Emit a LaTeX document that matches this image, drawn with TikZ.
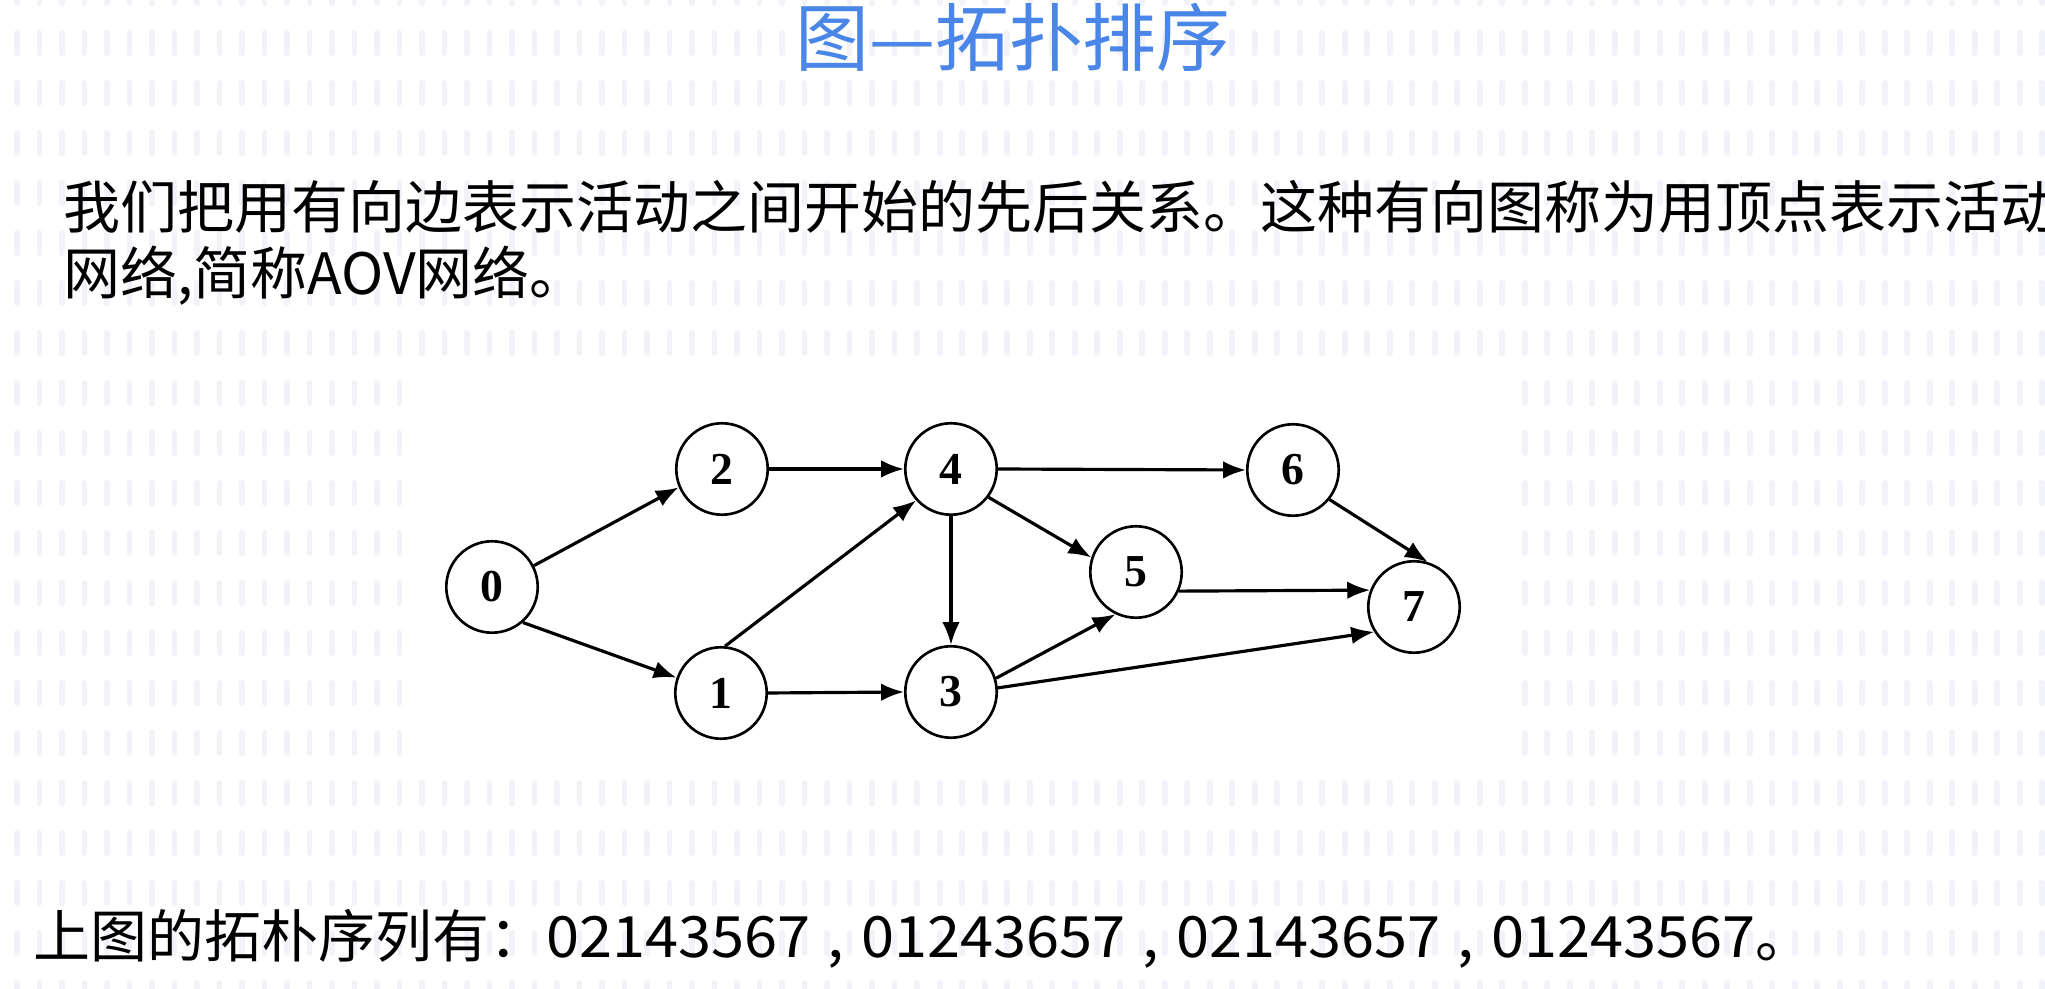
\documentclass[tikz,border=0pt]{standalone}
\usepackage{fontspec}
\setmainfont{Liberation Serif}
\newfontfamily\cjkfont{Noto Sans CJK SC}
\newfontfamily\digitfont[FakeStretch=1.045]{Noto Sans CJK SC}
\usetikzlibrary{arrows.meta}
\definecolor{titleblue}{RGB}{74,134,232}
\definecolor{tickgray}{RGB}{241,243,249}

\begin{document}
\begin{tikzpicture}[x=0.01cm, y=-0.01cm,
  vertex/.style={circle, draw, line width=0.75pt, minimum size=26pt, inner sep=0pt,
    font=\fontsize{13}{13}\selectfont\bfseries},
  arc/.style={->, line width=0.9pt},
  bgtick/.style={tickgray, line width=1.7pt, line cap=round},
  slidetext/.style={anchor=west, inner sep=0pt, font=\cjkfont\fontsize{16.2}{16.2}\selectfont},
  >={Latex[length=6.5pt,width=5pt]}]

% Slide background with its faint ticks
\useasboundingbox (0,0) rectangle (2045,989);
\fill [white] (0,0) rectangle (2045,989);
\foreach \r in {0,...,20}
  \foreach \c in {0,...,90}
    \draw [bgtick] (17+22.5*\c,-17+50*\r) -- ++(0,20);
\fill [white] (415,375) rectangle (1517,778);

% Title and text
\node [font=\cjkfont\fontsize{21}{21}\selectfont, text=titleblue] (title) at (1013,37) {图—拓扑排序};
\node [slidetext] (line1) at (63,207) {我们把用有向边表示活动之间开始的先后关系。这种有向图称为用顶点表示活动};
\node [slidetext] (line2) at (63,276) {网络,简称AOV网络。};
\node [slidetext] (orders) at (33,939) {上图的拓朴序列有：{\digitfont 02143567\hspace{0.3em},\hspace{0.3em}01243657\hspace{0.3em},\hspace{0.3em}02143657\hspace{0.3em},\hspace{0.3em}01243567}。};

% Vertices of the AOV network
\node [vertex] (n0) at (492,587) {0};
\node [vertex] (n2) at (722,469) {2};
\node [vertex] (n1) at (721,693) {1};
\node [vertex] (n4) at (951,469) {4};
\node [vertex] (n3) at (951,692) {3};
\node [vertex] (n5) at (1136,572) {5};
\node [vertex] (n6) at (1293,470) {6};
\node [vertex] (n7) at (1414,607) {7};

% Arcs
\draw [arc] (n0.27) -- (n2.203);
\draw [arc] (n0.-49) -- (n1.161);
\draw [arc] (n2.east) -- (n4.west);
\draw [arc] (n1.85) -- (n4.222);
\draw [arc] (n1.east) -- (n3.west);
\draw [arc] (n4.south) -- (n3.north);
\draw [arc] (n4.east) -- (n6.west);
\draw [arc] (n4.-37) -- (n5.162);
\draw [arc] (n3.17) -- (n5.244);
\draw [arc] (n3.5) -- (n7.212);
\draw [arc] (n5.-24) -- (n7.159);
\draw [arc] (n6.-39) -- (n7.73);

\end{tikzpicture}
\end{document}
